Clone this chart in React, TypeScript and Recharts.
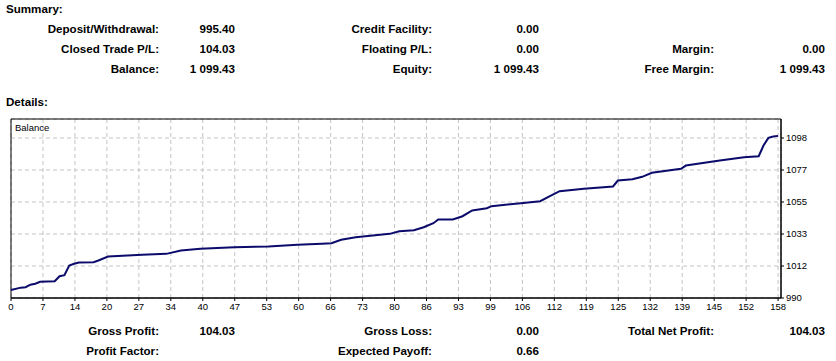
import { LineChart, Line, XAxis, YAxis, CartesianGrid, ReferenceArea } from 'recharts'

// balance after each closed trade (trade number -> balance)
const tradeIndex = [0, 2, 3, 4, 5, 6, 9, 10, 11, 12, 13, 14, 17, 18, 20, 24, 27, 32, 35, 39, 46, 53, 59, 64, 66, 68, 71, 78, 80, 83, 85, 87, 88, 91, 93, 95, 98, 99, 105, 109, 111, 113, 118, 124, 125, 128, 130, 132, 138, 139, 146, 151, 154, 155, 156, 157, 158]
const balance = [995.4, 997.0, 997.3, 999.0, 999.6, 1000.9, 1001.3, 1004.7, 1005.4, 1011.9, 1013.1, 1014.0, 1014.1, 1015.3, 1018.0, 1018.7, 1019.2, 1019.8, 1022.1, 1023.2, 1024.3, 1024.8, 1025.9, 1026.6, 1027.0, 1029.3, 1031.0, 1033.3, 1035.1, 1035.8, 1037.8, 1040.5, 1043.0, 1043.0, 1045.2, 1049.1, 1050.6, 1052.0, 1054.0, 1055.3, 1058.7, 1062.1, 1063.7, 1065.3, 1069.3, 1070.2, 1071.8, 1074.5, 1077.2, 1079.4, 1082.8, 1085.0, 1085.7, 1092.9, 1098.1, 1099.0, 1099.43]

const xTickLabels = ['0', '7', '14', '20', '27', '34', '40', '47', '53', '60', '66', '73', '80', '86', '93', '99', '106', '112', '119', '125', '132', '139', '145', '152', '158']
const yTickLabels = ['990', '1012', '1033', '1055', '1077', '1098']

const summaryLabels = [
    ['Deposit/Withdrawal:', 'Credit Facility:', ''],
    ['Closed Trade P/L:', 'Floating P/L:', 'Margin:'],
    ['Balance:', 'Equity:', 'Free Margin:'],
]
const summaryValues = [
    ['995.40', '0.00', ''],
    ['104.03', '0.00', '0.00'],
    ['1 099.43', '1 099.43', '1 099.43'],
]
const resultLabels = [
    ['Gross Profit:', 'Gross Loss:', 'Total Net Profit:'],
    ['Profit Factor:', 'Expected Payoff:', ''],
]
const resultValues = [
    ['104.03', '0.00', '104.03'],
    ['', '0.66', ''],
]

const data = tradeIndex.map((t, i) => ({ trade: t, balance: balance[i] }))

const xStep = 158 / 24
const xTicks = xTickLabels.map((_, k) => k * xStep)
const yStep = 21.6
const yTicks = yTickLabels.map((_, k) => 990 + k * yStep)
const yTop = 990 + 179 * yStep / 32

const labelRight = [159, 432, 714]
const valueRight = [235, 539, 825]
const font = '"Liberation Sans", Arial, sans-serif'

function Cell({ text, right, y }: { text: string; right: number; y: number }) {
    return (
        <div style={{
            position: 'absolute', right: 836 - right, top: y - 7, lineHeight: '14px',
            fontSize: 11.6, fontWeight: 'bold', whiteSpace: 'nowrap', fontFamily: font, color: '#000',
        }}>{text}</div>
    )
}

function Rows({ labels, values, y0 }: { labels: string[][]; values: string[][]; y0: number }) {
    return (
        <>
            {labels.map((row, r) => row.map((l, c) => (
                <div key={`${r}-${c}`}>
                    {l && <Cell text={l} right={labelRight[c]} y={y0 + r * 20} />}
                    {values[r][c] && <Cell text={values[r][c]} right={valueRight[c]} y={y0 + r * 20} />}
                </div>
            )))}
        </>
    )
}

export default function App() {
    return (
        <div style={{ position: 'absolute', left: 0, top: 0, width: 836, height: 361, background: '#fff', fontFamily: font }}>
            <div style={{ position: 'absolute', left: 6, top: 2, fontSize: 11.6, fontWeight: 'bold', lineHeight: '14px' }}>Summary:</div>
            <Rows labels={summaryLabels} values={summaryValues} y0={29} />
            <div style={{ position: 'absolute', left: 6, top: 95, fontSize: 11.6, fontWeight: 'bold', lineHeight: '14px' }}>Details:</div>

            <div style={{ position: 'absolute', left: 0, top: 0 }}>
                <LineChart
                    width={836}
                    height={361}
                    data={data}
                    margin={{ top: 119, right: 5, left: 11, bottom: 43 }}
                >
                    <CartesianGrid strokeDasharray="4 3" stroke="#c4c4c4" />
                    <ReferenceArea
                        x1={0}
                        x2={158.6}
                        y1={990}
                        y2={yTop}
                        stroke="#000"
                        strokeWidth={1}
                        fill="none"
                        fillOpacity={0}
                        ifOverflow="visible"
                    />
                    <XAxis
                        dataKey="trade"
                        type="number"
                        domain={[0, 158.6]}
                        ticks={xTicks}
                        interval={0}
                        height={20}
                        stroke="#000"
                        tickSize={3}
                        tick={{ fill: '#000', fontSize: 9.5, fontFamily: font }}
                        tickFormatter={(_v, i) => xTickLabels[i]}
                    />
                    <YAxis
                        orientation="right"
                        type="number"
                        domain={[990, yTop]}
                        ticks={yTicks}
                        interval={0}
                        width={50}
                        stroke="#000"
                        tickSize={3}
                        tick={{ fill: '#000', fontSize: 9.5, fontFamily: font, textAnchor: 'start' }}
                        tickFormatter={(_v, i) => yTickLabels[i]}
                    />
                    <Line
                        type="linear"
                        dataKey="balance"
                        name="Balance"
                        stroke="#0b0b6b"
                        strokeWidth={2}
                        dot={false}
                        isAnimationActive={false}
                    />
                </LineChart>
            </div>
            <div style={{ position: 'absolute', left: 15, top: 122, fontSize: 9.5, lineHeight: '12px', color: '#000' }}>Balance</div>

            <Rows labels={resultLabels} values={resultValues} y0={331} />
        </div>
    )
}
